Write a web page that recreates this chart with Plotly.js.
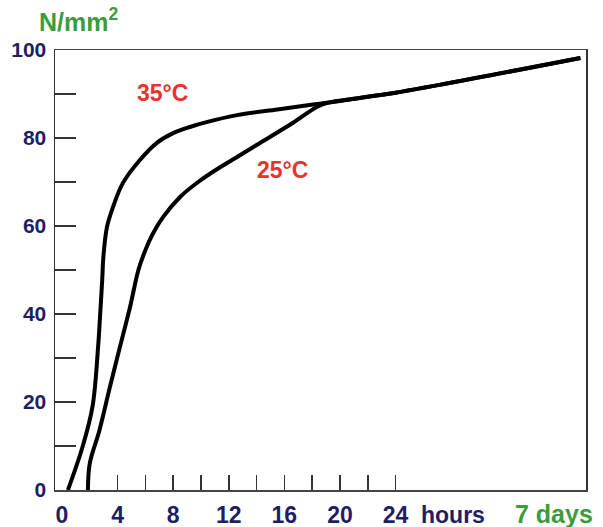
<!DOCTYPE html>
<html>
<head>
<meta charset="utf-8">
<script src="https://cdn.plot.ly/plotly-3.0.1.min.js"></script>
<style>html,body{margin:0;padding:0;background:#fff;}#chart{width:603px;height:527px;}</style>
</head>
<body>
<div id="chart"></div>
<script>
// Axis position of the "7 days" point on the broken time axis (hours scale 0-24, then 7 days)
var sevenDaysPos = 37.3;

// 35 °C curve: time (hours) and strength (N/mm2)
var t35 = [0.43, 1.5, 2.2, 2.6, 2.75, 2.9, 2.98, 3.24, 3.67, 4.39, 5.61, 6.83, 8.0, 9.2, 10.4, 12.6, 15.5, 17.8, 19.1, 21.4, 24];
var s35 = [0, 10, 19, 32.5, 40, 48, 53, 59.8, 64.3, 69.8, 75, 78.9, 81.1, 82.5, 83.6, 85.2, 86.5, 87.5, 88, 89.1, 90.3];
var s35_7d = 98.2;

// 25 °C curve
var t25 = [1.87, 2.0, 2.7, 3.45, 4.17, 4.9, 5.5, 6.0, 6.5, 7.27, 8.5, 9.8, 11.4, 12.6, 14.0, 16.6, 18.3, 19.1, 21.4, 24];
var s25 = [0, 6, 13.6, 23.4, 32.5, 41.6, 50, 54.5, 58, 62, 66.6, 70, 73.4, 75.7, 78.4, 83.4, 87, 88, 89.1, 90.3];
var s25_7d = 98.2;

// Tick labels
var xTickVals = [0, 4, 8, 12, 16, 20, 24];
var xTickText = ['0', '4', '8', '12', '16', '20', '24'];
var xMinorTicks = [4, 6, 8, 10, 12, 14, 16, 18, 20, 22, 24];
var yTickVals = [0, 10, 20, 30, 40, 50, 60, 70, 80, 90, 100];
var yTickText = ['0', '', '20', '', '40', '', '60', '', '80', '', '100'];

var navy = '#1e1e66', green = '#3c9c3c', red = '#e8322d';
var font = 'Arial, "Liberation Sans", sans-serif';

var xRange = [-0.5, 37.7];

var traces = [
  {x: t25.concat([sevenDaysPos]), y: s25.concat([s25_7d]), mode: 'lines',
   line: {color: '#000', width: 4, shape: 'spline', smoothing: 1}, xaxis: 'x', yaxis: 'y', hoverinfo: 'skip'},
  {x: t35.concat([sevenDaysPos]), y: s35.concat([s35_7d]), mode: 'lines',
   line: {color: '#000', width: 4, shape: 'spline', smoothing: 1}, xaxis: 'x2', yaxis: 'y', hoverinfo: 'skip'}
];

var layout = {
  width: 603, height: 527,
  margin: {l: 55, r: 17, t: 50, b: 37},
  paper_bgcolor: '#fff', plot_bgcolor: '#fff',
  showlegend: false,
  xaxis: {
    range: xRange, tickmode: 'array', tickvals: xTickVals, ticktext: xTickText,
    ticks: '', showgrid: false, zeroline: false,
    showline: true, linecolor: '#444', linewidth: 1.5, mirror: true,
    tickfont: {family: font, size: 23, color: navy, weight: 'bold'},
    ticklabelstandoff: 4
  },
  xaxis2: {
    range: xRange, overlaying: 'x', anchor: 'y', side: 'bottom',
    tickmode: 'array', tickvals: xMinorTicks, ticks: 'inside', ticklen: 15, tickwidth: 1.5, tickcolor: '#333',
    showticklabels: false, showgrid: false, zeroline: false, showline: false
  },
  yaxis: {
    range: [0, 100], tickmode: 'array', tickvals: yTickVals, ticktext: yTickText,
    ticks: 'inside', ticklen: 21, tickwidth: 1.5, tickcolor: '#333',
    showgrid: false, zeroline: false,
    showline: true, linecolor: '#333', linewidth: 1.5, mirror: true,
    tickfont: {family: font, size: 21, color: navy, weight: 'bold'},
    ticklabelstandoff: 3
  },
  annotations: [
    {text: 'hours', xref: 'x', yref: 'paper', x: 28.1, y: -0.022, yanchor: 'top', xanchor: 'center', showarrow: false,
     font: {family: font, size: 23, color: navy, weight: 'bold'}},
    {text: '7 days', xref: 'x', yref: 'paper', x: 35.4, y: -0.018, yanchor: 'top', xanchor: 'center', showarrow: false,
     font: {family: font, size: 25, color: green, weight: 'bold'}},
    {text: 'N/mm<sup>2</sup>', xref: 'paper', yref: 'paper', x: 0.045, y: 1.068, xanchor: 'center', yanchor: 'middle', showarrow: false,
     font: {family: font, size: 25, color: green, weight: 'bold'}},
    {text: '35°C', xref: 'x', yref: 'y', x: 7.2, y: 90.2, showarrow: false,
     font: {family: font, size: 23, color: red, weight: 'bold'}},
    {text: '25°C', xref: 'x', yref: 'y', x: 15.9, y: 72.7, showarrow: false,
     font: {family: font, size: 23, color: red, weight: 'bold'}}
  ]
};

Plotly.newPlot('chart', traces, layout, {displayModeBar: false, staticPlot: true});
</script>
</body>
</html>
